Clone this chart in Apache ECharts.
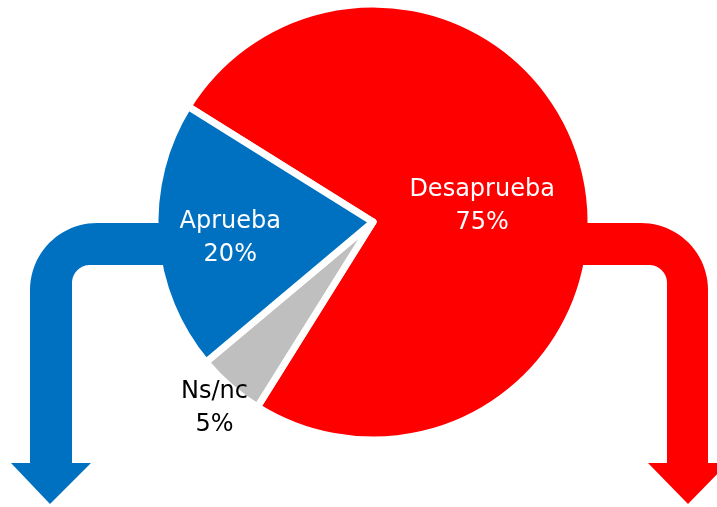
<!DOCTYPE html>
<html>
<head>
<meta charset="utf-8">
<script src="https://cdn.jsdelivr.net/npm/echarts@6/dist/echarts.min.js"></script>
<style>html,body{margin:0;padding:0;background:#fff;}#c{width:717px;height:507px;}</style>
</head>
<body>
<div id="c"></div>
<script>
var categories = ['Desaprueba', 'Ns/nc', 'Aprueba'];
var values = [75, 5, 20];
var colors = ['#FF0000', '#BFBFBF', '#0070C0'];
var labelColors = ['#ffffff', '#000000', '#ffffff'];
var labelOffsets = [[0, 9], [-85, 102], [-31, 8]];

function arcPts(cx, cy, r, a0, a1) {
  var pts = [], n = 24;
  for (var i = 0; i <= n; i++) {
    var a = (a0 + (a1 - a0) * i / n) * Math.PI / 180;
    pts.push([cx + r * Math.cos(a), cy + r * Math.sin(a)]);
  }
  return pts;
}
var bluePts = [[172, 223]]
  .concat(arcPts(97, 290, 67, -90, -180))
  .concat([[30, 463], [11, 463], [50, 504], [91, 463], [72, 463]])
  .concat(arcPts(90, 283, 18, 180, 270))
  .concat([[172, 265]]);
var redPts = [[575, 223]]
  .concat(arcPts(641, 290, 67, -90, 0))
  .concat([[708, 463], [728, 463], [688, 504], [648, 463], [667, 463]])
  .concat(arcPts(649, 283, 18, 0, -90))
  .concat([[575, 265]]);

var chart = echarts.init(document.getElementById('c'));
chart.setOption({
  animation: false,
  backgroundColor: '#ffffff',
  graphic: [
    { type: 'polygon', z: 10, shape: { points: bluePts }, style: { fill: '#0070C0' } },
    { type: 'polygon', z: 10, shape: { points: redPts }, style: { fill: '#FF0000' } }
  ],
  series: [{
    type: 'pie',
    z: 2,
    center: [373, 222],
    radius: 218,
    startAngle: 148,
    clockwise: true,
    avoidLabelOverlap: false,
    itemStyle: { borderColor: '#ffffff', borderWidth: 7 },
    emphasis: { disabled: true },
    labelLine: { show: false },
    label: {
      position: 'inside',
      fontFamily: 'DejaVu Sans',
      fontSize: 24,
      lineHeight: 33,
      formatter: function (p) { return p.name + '\n' + p.value + '%'; }
    },
    data: categories.map(function (c, i) {
      return {
        name: c,
        value: values[i],
        itemStyle: { color: colors[i] },
        label: { color: labelColors[i], offset: labelOffsets[i] }
      };
    })
  }]
});
</script>
</body>
</html>
